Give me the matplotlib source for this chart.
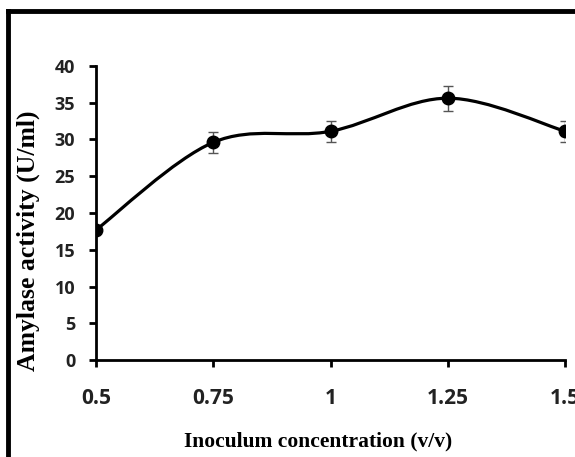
import numpy as np
import matplotlib.pyplot as plt
from matplotlib.path import Path
from matplotlib.patches import PathPatch
from matplotlib.lines import Line2D

conc = [0.5, 0.75, 1.0, 1.25, 1.5]
activity = [17.7, 29.6, 31.1, 35.6, 31.1]
err = [0.0, 1.4, 1.4, 1.7, 1.4]
xticks = [0.5, 0.75, 1, 1.25, 1.5]
xticklabels = ["0.5", "0.75", "1", "1.25", "1.5"]
yticks = [0, 5, 10, 15, 20, 25, 30, 35, 40]


def smooth_path(xs, ys):
    # bezier curve through points, like a spreadsheet "smoothed line"
    pts = np.column_stack([xs, ys])
    verts = [pts[0]]
    codes = [Path.MOVETO]
    n = len(pts)
    for i in range(n - 1):
        p0 = pts[max(i - 1, 0)]
        p1 = pts[i]
        p2 = pts[i + 1]
        p3 = pts[min(i + 2, n - 1)]
        c1 = p1 + (p2 - p0) / 6.0
        c2 = p2 - (p3 - p1) / 6.0
        verts += [c1, c2, p2]
        codes += [Path.CURVE4] * 3
    return Path(verts, codes)


fig = plt.figure(figsize=(5.75, 4.57), dpi=100)
fig.patch.set_facecolor("white")
ax = fig.add_axes([0.167, 0.212, 0.816, 0.644])

ax.add_patch(PathPatch(smooth_path(conc, activity), facecolor="none",
                       edgecolor="black", lw=2.3, zorder=2))
ax.errorbar(conc, activity, yerr=err, fmt="none", ecolor="#555555",
            elinewidth=1.0, capsize=3.5, capthick=1.0, zorder=3)
ax.plot(conc, activity, "o", color="black", ms=9, zorder=4)

ax.set_xlim(0.5, 1.5)
ax.set_ylim(0, 40)
ax.set_xticks(xticks)
ax.set_xticklabels(xticklabels)
ax.set_yticks(yticks)

for s in ["top", "right"]:
    ax.spines[s].set_visible(False)
for s in ["left", "bottom"]:
    ax.spines[s].set_linewidth(2.0)
    ax.spines[s].set_capstyle("projecting")

ax.tick_params(axis="x", direction="out", length=5, width=2, pad=15)
ax.tick_params(axis="y", direction="out", length=5, width=2, pad=10)
for lbl in ax.get_xticklabels():
    lbl.set_fontfamily("Open Sans")
    lbl.set_fontweight("bold")
    lbl.set_fontsize(15)
    lbl.set_color("#222222")
for lbl in ax.get_yticklabels():
    lbl.set_fontfamily("Open Sans")
    lbl.set_fontweight("bold")
    lbl.set_fontsize(13)
    lbl.set_color("#222222")

fig.text(318 / 575, 1 - 441 / 457, "Inoculum concentration (v/v)", ha="center",
         va="center", family="Liberation Serif", weight="bold", fontsize=15.5)
fig.text(28 / 575, 1 - 241 / 457, "Amylase activity (U/ml)", ha="center",
         va="center", rotation=90, family="Liberation Serif", weight="bold",
         fontsize=18.5)

# frame of the original figure, cut at right and bottom
fig.add_artist(Line2D([8 / 575, 8 / 575], [0, 1 - 11 / 457],
                      transform=fig.transFigure, color="black", lw=3.5,
                      solid_capstyle="projecting"))
fig.add_artist(Line2D([8 / 575, 1.0], [1 - 11 / 457, 1 - 11 / 457],
                      transform=fig.transFigure, color="black", lw=3.5,
                      solid_capstyle="projecting"))

fig.savefig("out.png", dpi=100)
